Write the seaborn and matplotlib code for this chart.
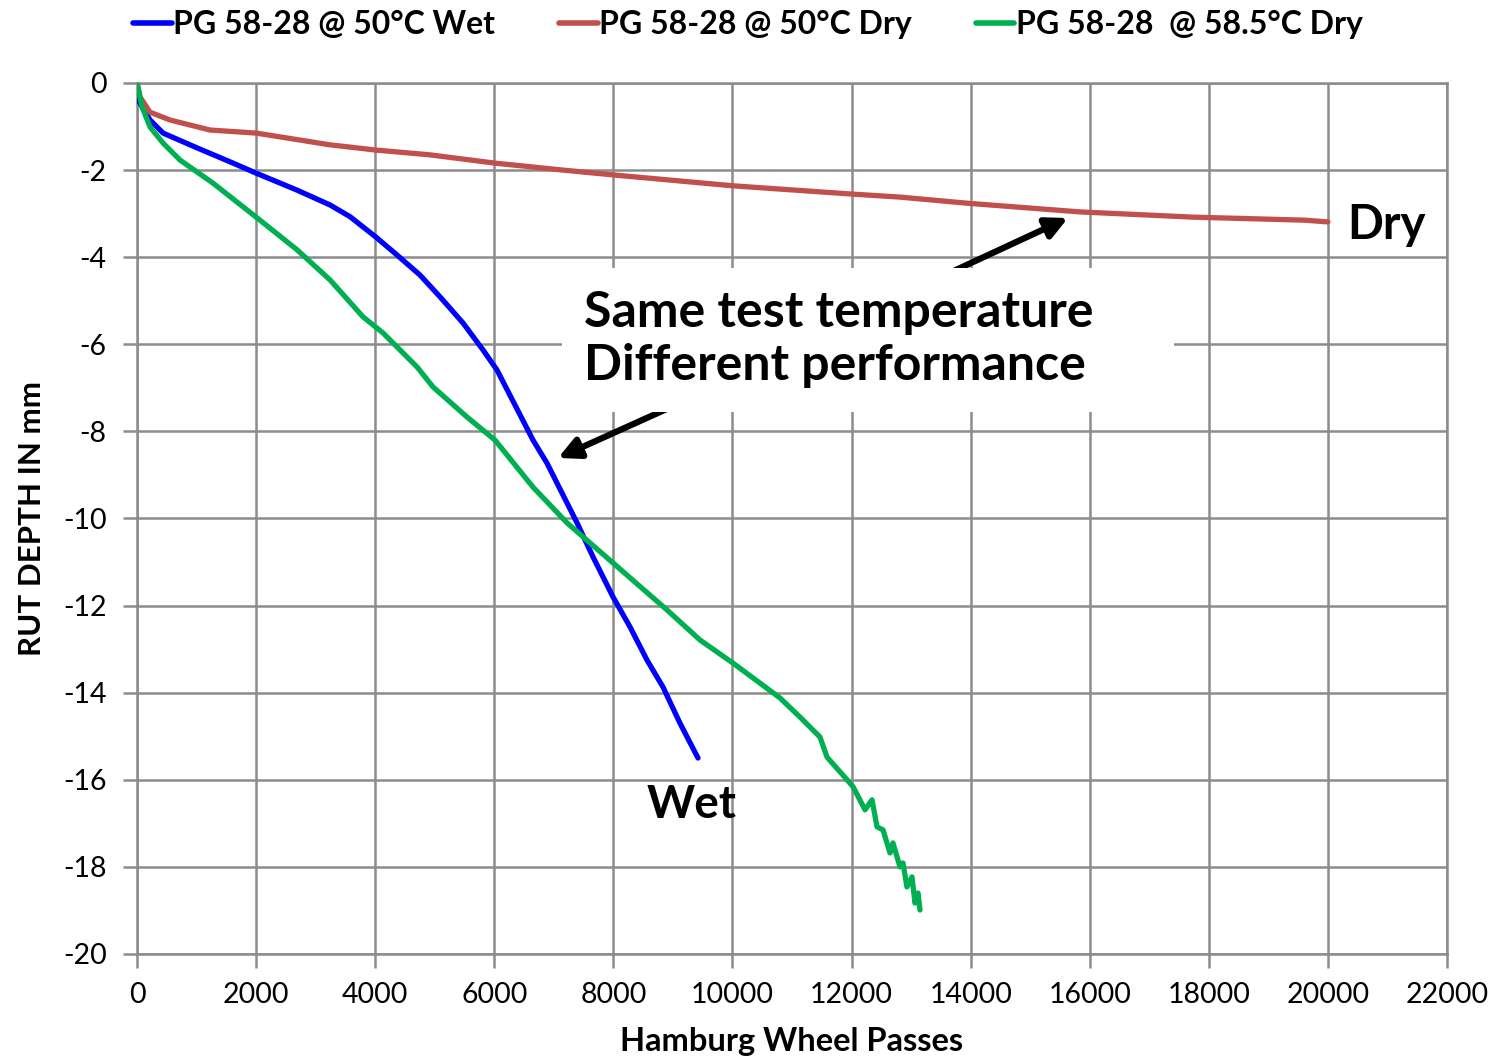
"""
Hamburg wheel tracking: rut depth vs wheel passes, wet vs dry.
Values read off the reference chart.
"""

import matplotlib
matplotlib.use("Agg")
import matplotlib.pyplot as plt
import matplotlib.patches as mpatches
import pandas as pd
import seaborn as sns

# ── Data ─────────────────────────────────────────────────────────────────────
wet_passes = [0, 17, 218, 437, 1008, 1562, 2000, 2687, 3240, 3577, 4013, 4366,
              4752, 5088, 5474, 5810, 6045, 6650, 6885, 7389, 7657, 7993,
              8279, 8564, 8833, 9118, 9421]
wet_depth = [0.0, -0.39, -0.85, -1.15, -1.49, -1.81, -2.07, -2.46, -2.80, -3.07,
             -3.54, -3.95, -4.41, -4.91, -5.51, -6.13, -6.59, -8.20, -8.73,
             -10.10, -10.88, -11.80, -12.49, -13.25, -13.87, -14.70, -15.50]

dry50_passes = [0, 50, 218, 554, 1226, 2000, 3240, 4013, 4920, 6012, 7154,
                7993, 10000, 12000, 12813, 13938, 15835, 17733, 19614, 20000]
dry50_depth = [0.0, -0.32, -0.67, -0.85, -1.08, -1.15, -1.42, -1.54, -1.65,
               -1.84, -2.00, -2.11, -2.36, -2.55, -2.62, -2.76, -2.96, -3.08,
               -3.15, -3.19]

dry585_passes = [0, 84, 218, 437, 722, 1276, 2000, 2687, 3240, 3795, 4131,
                 4702, 4971, 5541, 6012, 6650, 7221, 7993, 8900, 9454, 10008,
                 10797, 11134, 11470, 11588, 11924, 12025, 12226, 12343, 12427,
                 12528, 12645, 12695, 12813, 12863, 12930, 13014, 13065, 13115,
                 13149]
dry585_depth = [0.0, -0.55, -1.01, -1.38, -1.77, -2.30, -3.08, -3.83, -4.52,
                -5.37, -5.74, -6.52, -6.98, -7.67, -8.20, -9.28, -10.10, -11.02,
                -12.10, -12.79, -13.32, -14.12, -14.56, -15.02, -15.48, -16.00,
                -16.16, -16.69, -16.46, -17.08, -17.15, -17.68, -17.45, -18.00,
                -17.91, -18.46, -18.23, -18.83, -18.60, -18.99]

series_labels = ["PG 58-28 @ 50°C Wet", "PG 58-28 @ 50°C Dry",
                 "PG 58-28  @ 58.5°C Dry"]

# fmt: off
WET_COLOR    = "#0000FF"
DRY50_COLOR  = "#C0504D"
DRY585_COLOR = "#00B050"
GRID_COLOR   = "#8C8C8C"
# fmt: on

frames = []
for lbl, xs, ys in zip(series_labels,
                       [wet_passes, dry50_passes, dry585_passes],
                       [wet_depth, dry50_depth, dry585_depth]):
    frames.append(pd.DataFrame({"passes": xs, "depth": ys, "series": lbl}))
df = pd.concat(frames, ignore_index=True)

# ── Plot ─────────────────────────────────────────────────────────────────────
sns.set_style("white")
plt.rcParams["font.family"] = ["Lato", "DejaVu Sans"]
plt.rcParams["axes.unicode_minus"] = False
plt.rcParams["text.color"] = "black"
plt.rcParams["axes.labelcolor"] = "black"
plt.rcParams["xtick.labelcolor"] = "black"
plt.rcParams["ytick.labelcolor"] = "black"

fig = plt.figure(figsize=(14.93, 10.6), dpi=100)
fig.patch.set_facecolor("white")
ax = fig.add_axes([0.0918, 0.1, 0.8774, 0.8217])

sns.lineplot(
    data=df, x="passes", y="depth", hue="series", sort=False,
    palette=[WET_COLOR, DRY50_COLOR, DRY585_COLOR],
    linewidth=3.8, ax=ax, legend=False, zorder=5,
)

ax.set_xlim(0, 22000)
ax.set_ylim(-20, 0)
ax.set_xticks(range(0, 22001, 2000))
ax.set_yticks(range(-20, 1, 2))
ax.grid(True, color=GRID_COLOR, linewidth=1.8)
ax.set_axisbelow(True)
for side in ["top", "right", "left", "bottom"]:
    ax.spines[side].set_color(GRID_COLOR)
    ax.spines[side].set_linewidth(1.8)
ax.tick_params(axis="both", direction="out", length=10, width=1.8,
               color=GRID_COLOR, labelsize=20.5, left=True, bottom=True)
ax.tick_params(axis="x", pad=10)
ax.tick_params(axis="y", pad=12)

ax.set_xlabel("Hamburg Wheel Passes", fontsize=23.5, fontweight="bold", labelpad=14)
ax.set_ylabel("RUT DEPTH IN mm", fontsize=22.5, fontweight="bold", labelpad=12)

# Annotation arrows (drawn under the white text box)
arrow_kw = dict(arrowstyle="-|>", lw=4.5, color="black", mutation_scale=32,
                shrinkA=0, shrinkB=0)
ax.annotate("", xy=(15634, -3.10), xytext=(12007, -5.40),
            arrowprops=arrow_kw, zorder=3)
ax.annotate("", xy=(7070, -8.61), xytext=(10495, -6.50),
            arrowprops=arrow_kw, zorder=3)

box = mpatches.Rectangle((7137, -7.55), 10277, 3.30, facecolor="white",
                         edgecolor="none", zorder=4)
ax.add_patch(box)
ax.text(7506, -5.88, "Same test temperature\nDifferent performance",
        fontsize=36, fontweight="bold", ha="left", va="center",
        linespacing=1.2, zorder=6)

ax.text(20319, -3.26, "Dry", fontsize=34, fontweight="bold",
        ha="left", va="center", zorder=6)
ax.text(8564, -16.58, "Wet", fontsize=33, fontweight="bold",
        ha="left", va="center", zorder=6)

# Legend across the top
handles = [plt.Line2D([], [], color=c, linewidth=4)
           for c in [WET_COLOR, DRY50_COLOR, DRY585_COLOR]]
fig.legend(handles, series_labels, loc="upper center",
           bbox_to_anchor=(0.501, 1.018), ncol=3, frameon=False,
           prop={"size": 23, "weight": "bold"}, handlelength=1.2,
           handletextpad=0.05, columnspacing=2.0)

plt.savefig("out.png", dpi=100, facecolor="white")
plt.close()
print("Saved: out.png")
